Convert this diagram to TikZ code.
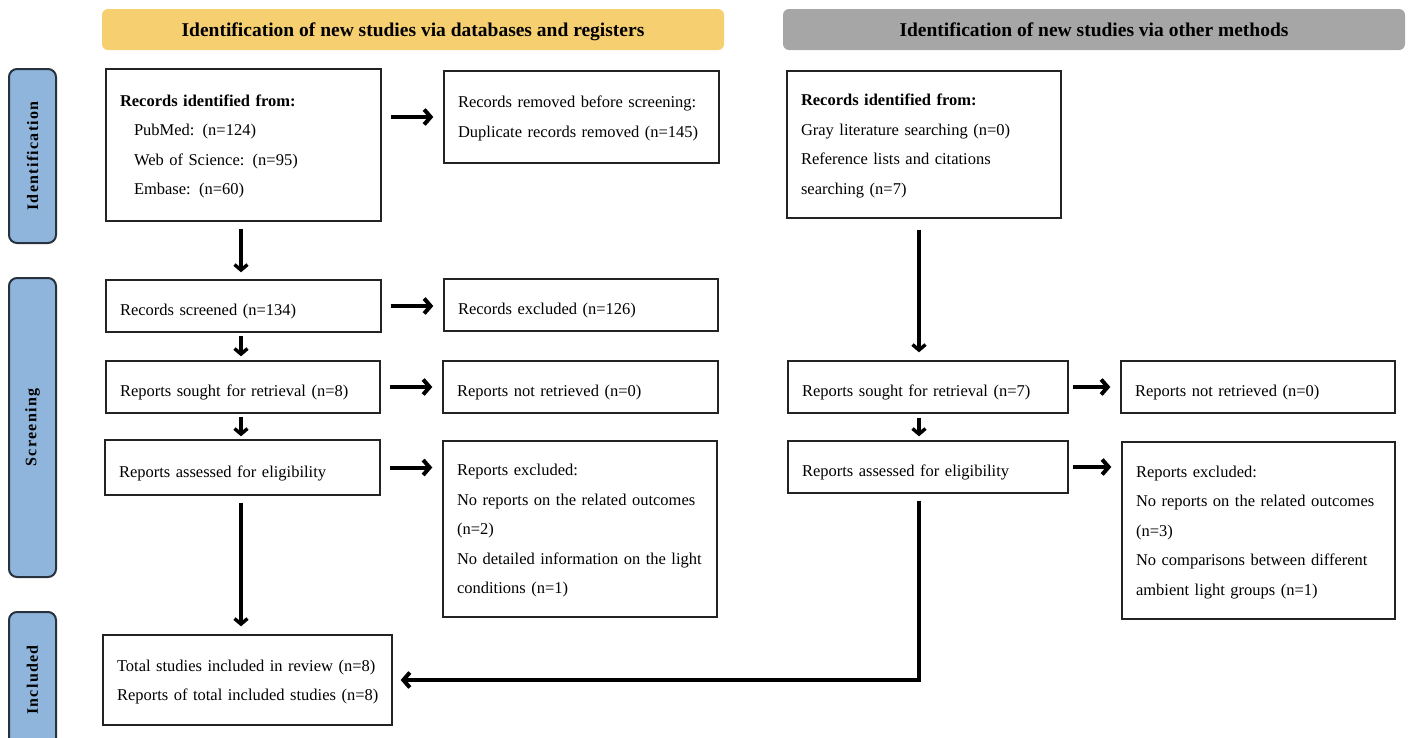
\documentclass[tikz,border=0pt]{standalone}
\usepackage{fontspec}
\setmainfont{Liberation Serif}
\newfontfamily\sidefont{Liberation Serif}[LetterSpace=8]
\usetikzlibrary{arrows.meta}
\definecolor{ybar}{RGB}{246,207,112}
\definecolor{gbar}{RGB}{166,166,166}
\definecolor{sideblue}{RGB}{143,181,220}
\definecolor{sideedge}{RGB}{40,50,62}
\definecolor{boxedge}{RGB}{35,35,35}
\begin{document}
\begin{tikzpicture}[x=1pt,y=-1pt,
  box/.style={draw=boxedge, line width=1.4pt, fill=white, align=left,
    font=\fontsize{16.5}{29.5}\selectfont, inner xsep=14pt, inner ysep=0pt},
  bx/.style 2 args={box, text width=#1, minimum height=#2},
  sgl/.style={execute at begin node={\rule{0pt}{23pt}}},
  mul/.style={execute at begin node={\rule{0pt}{15pt}}},
  titlebar/.style={rounded corners=6pt, inner sep=0pt, text height=19pt, text depth=4.5pt,
    font=\fontsize{19.5}{22}\selectfont\bfseries},
  side/.style={draw=sideedge, line width=2pt, fill=sideblue, rounded corners=8pt,
    rotate=90, inner sep=0pt, font={\sidefont\bfseries\fontsize{16}{18}\selectfont}},
  arr/.style={line width=3.4pt, -{Straight Barb[length=5.5pt,width=13pt]}},
  harr/.style={line width=4pt, -{Straight Barb[length=6.5pt,width=15pt]}}
]
\useasboundingbox (0,0) rectangle (1408,737);

% title bars
\node[titlebar, fill=ybar, minimum width=622pt, minimum height=41pt] (T1) at (413,29.5)
  {Identification of new studies via databases and registers};
\node[titlebar, fill=gbar, minimum width=622pt, minimum height=41pt] (T2) at (1094,29.5)
  {Identification of new studies via other methods};

% side labels
\node[side, minimum width=174pt, minimum height=47pt] (L1) at (32.5,156) {Identification};
\node[side, minimum width=299pt, minimum height=47pt] (L2) at (32.5,427.5) {Screening};
\node[side, minimum width=136pt, minimum height=47pt] (L3) at (32.5,680) {Included};

% left column
\node[bx={247pt}{152pt}, mul] (A1) at (243.5,145)
  {\textbf{Records identified from:}\\
   \hspace*{14pt}PubMed: (n=124)\\
   \hspace*{14pt}Web of Science: (n=95)\\
   \hspace*{14pt}Embase: (n=60)};
\node[bx={247pt}{92pt}, mul] (A2) at (581.5,117)
  {Records removed before screening:\\ Duplicate records removed (n=145)};
\node[bx={247pt}{52pt}, sgl] (S1) at (243.5,306) {Records screened (n=134)};
\node[bx={246pt}{52pt}, sgl] (S2) at (581,305) {Records excluded (n=126)};
\node[bx={246pt}{52pt}, sgl] (R1) at (243,387) {Reports sought for retrieval (n=8)};
\node[bx={247pt}{52pt}, sgl] (R2) at (580.5,387) {Reports not retrieved (n=0)};
\node[bx={247pt}{55pt}, sgl] (E1) at (242.5,467.5) {Reports assessed for eligibility};
\node[bx={246pt}{176pt}, mul] (E2) at (580,529)
  {Reports excluded:\\ No reports on the related outcomes\\ (n=2)\\
   No detailed information on the light\\ conditions (n=1)};
\node[bx={261pt}{90pt}, mul] (Inc) at (247.5,680)
  {\mbox{Total studies included in review (n=8)}\\
   \mbox{Reports of total included studies (n=8)}};

% right column
\node[bx={246pt}{147pt}, mul] (B1) at (924,144.5)
  {\textbf{Records identified from:}\\ Gray literature searching (n=0)\\
   Reference lists and citations\\ searching (n=7)};
\node[bx={252pt}{52pt}, sgl] (BR1) at (928,387) {Reports sought for retrieval (n=7)};
\node[bx={246pt}{52pt}, sgl] (BR2) at (1258,387) {Reports not retrieved (n=0)};
\node[bx={252pt}{52pt}, sgl] (BE1) at (928,467) {Reports assessed for eligibility};
\node[bx={245pt}{177pt}, mul] (BE2) at (1258.5,530.5)
  {Reports excluded:\\ No reports on the related outcomes\\ (n=3)\\
   No comparisons between different\\ ambient light groups (n=1)};

\coordinate (lc) at (241,0);
\coordinate (rc) at (919,0);

% horizontal arrows
\draw[harr, shorten <=9pt, shorten >=10pt] (A1.east |- A2.west) -- (A2.west);
\draw[harr, shorten <=9pt, shorten >=10pt] (S1.east) -- (S1.east -| S2.west);
\draw[harr, shorten <=9pt, shorten >=10pt] (R1.east) -- (R2.west);
\draw[harr, shorten <=9pt, shorten >=10pt] (E1.east) -- (E1.east -| E2.west);
\draw[harr, shorten <=4pt, shorten >=10pt] (BR1.east) -- (BR2.west);
\draw[harr, shorten <=4pt, shorten >=10pt] (BE1.east) -- (BE1.east -| BE2.west);

% vertical arrows
\draw[arr, shorten <=7pt, shorten >=7pt] (lc |- A1.south) -- (lc |- S1.north);
\draw[arr, shorten <=3pt, shorten >=4pt] (lc |- S1.south) -- (lc |- R1.north);
\draw[arr, shorten <=3pt, shorten >=3pt] (lc |- R1.south) -- (lc |- E1.north);
\draw[arr, shorten <=7pt, shorten >=8pt] (lc |- E1.south) -- (lc |- Inc.north);
\draw[arr, shorten <=11pt, shorten >=8pt] (rc |- B1.south) -- (rc |- BR1.north);
\draw[arr, shorten <=4pt, shorten >=4pt] (rc |- BR1.south) -- (rc |- BE1.north);
\draw[harr, shorten <=7pt, shorten >=8pt] (rc |- BE1.south) |- (Inc.east);
\end{tikzpicture}
\end{document}
